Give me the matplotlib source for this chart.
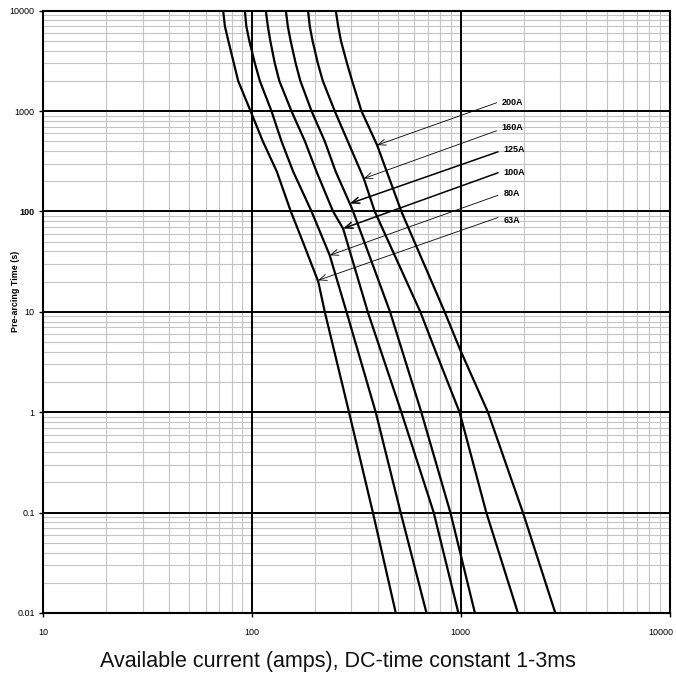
import numpy as np
import matplotlib
matplotlib.use('Agg')
import matplotlib.pyplot as plt
from matplotlib.ticker import LogLocator, FixedLocator, NullFormatter
from matplotlib.transforms import ScaledTranslation

plt.rcParams['font.family'] = ['Liberation Sans', 'DejaVu Sans']

# pre-arcing time (s) vs available current (A)
t_63 = [10000, 7000, 5000, 3000, 2000, 1000, 500, 250, 100, 50, 20, 10, 1, 0.1, 0.01]
i_63 = [72.9, 74.3, 77.2, 82.0, 86.0, 98.6, 112.9, 131.7, 153.7, 175.4, 208, 223.5, 292, 380, 489]

t_80 = [10000, 7000, 5000, 3000, 2000, 1000, 500, 250, 100, 36.6, 10, 1, 0.1, 0.01]
i_80 = [92.6, 94.1, 97.3, 103.4, 109.2, 124.2, 138.7, 157.7, 193.2, 236, 284, 392, 516, 686]

t_100 = [10000, 7000, 5000, 3000, 2000, 1000, 500, 250, 100, 67.6, 10, 1, 0.1, 0.01]
i_100 = [116.7, 119.3, 122.6, 128.8, 135.4, 154.8, 179.6, 204, 244.9, 273.5, 359, 520, 743, 975]

t_125 = [10000, 7000, 5000, 3000, 2000, 1000, 500, 250, 120, 100, 10, 1, 0.1, 0.01]
i_125 = [145.5, 148.7, 153.4, 162.1, 170.7, 193.2, 223.5, 252, 294.6, 305.6, 459, 648, 893, 1170]

t_160 = [10000, 7000, 5000, 3000, 2000, 1000, 500, 213, 100, 10, 4.14, 1, 0.1, 0.01]
i_160 = [185.9, 189.4, 195.4, 207, 218.7, 249.5, 288, 343.6, 387.8, 641, 755, 988, 1327, 1880]

t_200 = [10000, 7000, 5000, 3000, 2000, 1000, 458, 100, 10, 4.14, 1, 0.1, 0.01]
i_200 = [252.4, 259.1, 267.2, 285.5, 302.2, 335, 398, 520, 838, 997, 1351, 1987, 2839]

fuse_names = ['63A', '80A', '100A', '125A', '160A', '200A']
curves = [(i_63, t_63), (i_80, t_80), (i_100, t_100),
          (i_125, t_125), (i_160, t_160), (i_200, t_200)]

# where each label arrow touches its curve
tip_i = [207.5, 236, 273.5, 294.6, 343.6, 398]
tip_t = [20.6, 36.6, 67.6, 120, 213, 458]

y_ticks = [0.01, 0.1, 1, 10, 100, 1000, 10000]
y_labels = ['0.01', '0.1', '1', '10', '100', '1000', '10000']
x_ticks = [10, 100, 1000, 10000]
x_labels = ['10', '100', '1000', '10000']

# label layout (tail of arrow, text position)
tail_x = [1509, 1509, 1509, 1509, 1486, 1486]
tail_y = [87.1, 145, 243, 393, 637, 1210]
text_y = [80.5, 151, 247, 411, 681, 1222]
arrow_lw = [0.6, 0.6, 1.1, 1.1, 0.6, 0.6]

fig = plt.figure(figsize=(6.76, 6.83), dpi=100)
ax = fig.add_axes([0.0636, 0.1025, 0.9268, 0.8818])
ax.set_xscale('log')
ax.set_yscale('log')
ax.set_xlim(10, 10000)
ax.set_ylim(0.01, 10000)

ax.xaxis.set_minor_locator(LogLocator(base=10, subs=range(2, 10), numticks=20))
ax.yaxis.set_minor_locator(LogLocator(base=10, subs=range(2, 10), numticks=20))
ax.xaxis.set_minor_formatter(NullFormatter())
ax.yaxis.set_minor_formatter(NullFormatter())
ax.grid(which='minor', color='#c4c4c4', lw=0.8)
ax.set_axisbelow(True)

# decade lines drawn on top of the grey minor grid
for v in x_ticks:
    ax.axvline(v, color='black', lw=1.4, zorder=1)
for v in y_ticks:
    ax.axhline(v, color='black', lw=1.4, zorder=1)

for xs, ys in curves:
    ax.plot(xs, ys, color='black', lw=1.6, zorder=3, solid_joinstyle='round')

for k, name in enumerate(fuse_names):
    ax.annotate('', xy=(tip_i[k], tip_t[k]), xytext=(tail_x[k], tail_y[k]),
                arrowprops=dict(arrowstyle='->,head_length=0.55,head_width=0.22',
                                lw=arrow_lw[k], color='black',
                                shrinkA=0, shrinkB=0), zorder=4)
    ax.text(tail_x[k] * 1.06, text_y[k], name, fontsize=6.5, fontweight='bold',
            ha='left', va='center', zorder=5)

ax.yaxis.set_major_locator(FixedLocator(y_ticks))
ax.set_yticklabels(y_labels)
ax.xaxis.set_major_locator(FixedLocator(x_ticks))
ax.set_xticklabels(x_labels)
for lab in ax.get_yticklabels():
    if lab.get_text() == '100':
        lab.set_fontweight('bold')
ax.tick_params(which='major', length=3, width=1, labelsize=6.5, color='black')
ax.tick_params(axis='x', pad=8)
ax.tick_params(axis='y', pad=3)
ax.tick_params(which='minor', length=0)
last = ax.get_xticklabels()[-1]
last.set_ha('right')
last.set_transform(last.get_transform() + ScaledTranslation(2.5 / 72, 0, fig.dpi_scale_trans))
for s in ax.spines.values():
    s.set_linewidth(1.5)
    s.set_color('black')

fig.text(0.0222, 0.573, 'Pre-arcing Time (s)', rotation=90, fontsize=6.4,
         fontweight='bold', ha='center', va='center')
fig.text(0.5, 0.031, 'Available current (amps), DC-time constant 1-3ms',
         fontsize=15.5, ha='center', va='center', color='#111111')

fig.savefig('out.png', dpi=100)
